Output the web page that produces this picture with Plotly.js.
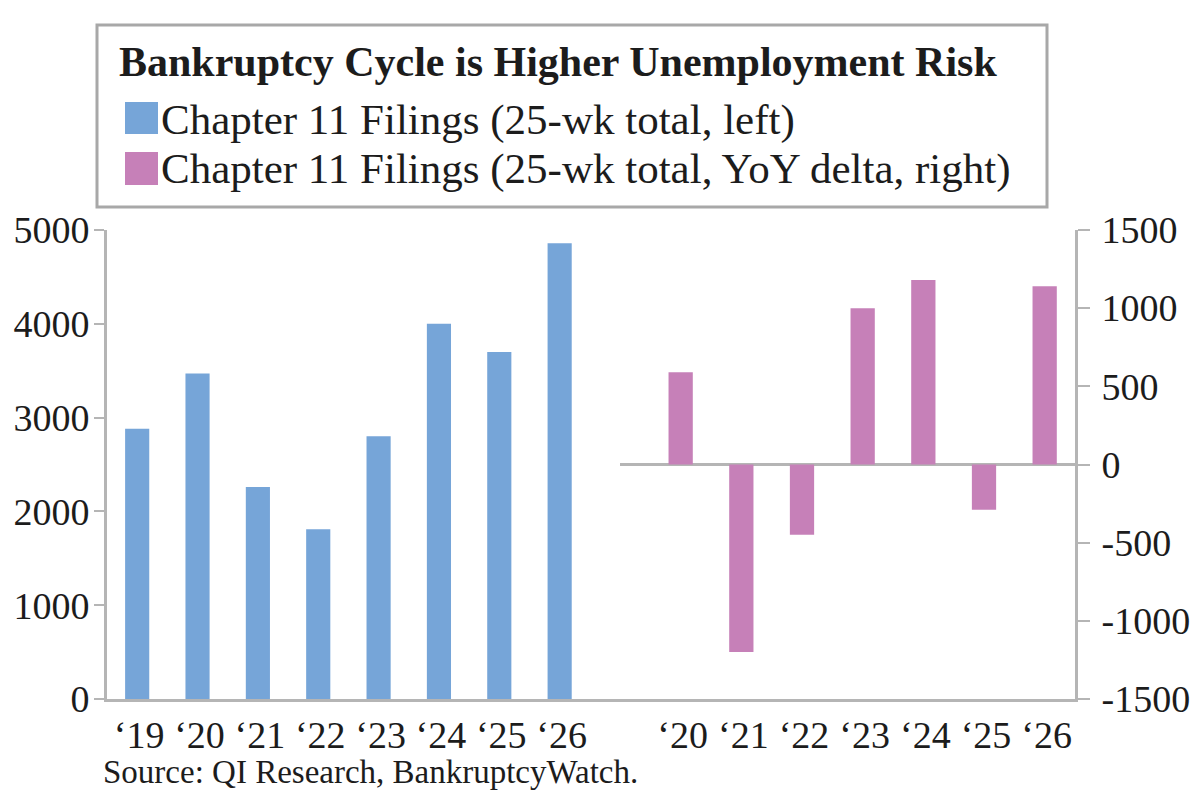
<!DOCTYPE html>
<html>
<head>
<meta charset="utf-8">
<script src="https://cdn.plot.ly/plotly-3.0.1.min.js"></script>
<style>
  html, body { margin: 0; padding: 0; background: #ffffff; }
  #chart { width: 1200px; height: 794px; }
</style>
</head>
<body>
<div id="chart"></div>
<script>
// Chapter 11 filings, 25-week totals (left panel)
const levelYears = ['‘19', '‘20', '‘21', '‘22', '‘23', '‘24', '‘25', '‘26'];
const levelFilings = [2880, 3470, 2260, 1810, 2800, 4000, 3700, 4860];

// Year-over-year change of the 25-week total (right panel)
const deltaYears = ['‘20', '‘21', '‘22', '‘23', '‘24', '‘25', '‘26'];
const deltaFilings = [590, -1200, -450, 1000, 1180, -290, 1140];

// Axis tick values
const levelTicks = [0, 1000, 2000, 3000, 4000, 5000];
const deltaTicks = [-1500, -1000, -500, 0, 500, 1000, 1500];

const chartTitle = 'Bankruptcy Cycle is Higher Unemployment Risk';
const seriesNames = [
  'Chapter 11 Filings (25-wk total, left)',
  'Chapter 11 Filings (25-wk total, YoY delta, right)'
];
const sourceNote = 'Source: QI Research, BankruptcyWatch.';

const BLUE = '#76a5d8';
const PINK = '#c680b8';
const AXIS = '#b5b5b5';
const INK = '#1c1c1c';
const SERIF = '"Liberation Serif", "DejaVu Serif", serif';

// Page geometry (pixels)
const W = 1200, H = 794;
const M = { l: 107, r: 125, t: 230, b: 95 };
const plotW = W - M.l - M.r;
const plotH = H - M.t - M.b;
const px = x => (x - M.l) / plotW;          // page x -> paper x
const py = y => (H - M.b - y) / plotH;      // page y -> paper y
const split = px(620);

const traces = [
  {
    type: 'bar', name: seriesNames[0],
    x: levelYears, y: levelFilings,
    xaxis: 'x', yaxis: 'y',
    marker: { color: BLUE, line: { width: 0 } },
    showlegend: false, hoverinfo: 'x+y'
  },
  {
    type: 'bar', name: seriesNames[1],
    x: deltaYears, y: deltaFilings,
    xaxis: 'x2', yaxis: 'y2',
    marker: { color: PINK, line: { width: 0 } },
    showlegend: false, hoverinfo: 'x+y'
  }
];

const tickFont = { family: SERIF, size: 38, color: INK };

const layout = {
  width: W, height: H,
  margin: M,
  paper_bgcolor: '#ffffff',
  plot_bgcolor: '#ffffff',
  bargap: 0.6,
  showlegend: false,
  font: { family: SERIF, color: INK },
  xaxis: {
    domain: [0, split], anchor: 'y',
    type: 'category', categoryorder: 'array', categoryarray: levelYears,
    range: [-0.5, 8.0],
    showline: true, linecolor: AXIS, linewidth: 3,
    ticks: '', showgrid: false, zeroline: false,
    tickfont: tickFont, ticklabelshift: 2, fixedrange: true
  },
  xaxis2: {
    domain: [split, 1], anchor: 'y2',
    type: 'category', categoryorder: 'array', categoryarray: deltaYears,
    range: [-1, 6.5],
    showline: true, linecolor: AXIS, linewidth: 3,
    ticks: '', showgrid: false, zeroline: false,
    tickfont: tickFont, ticklabelshift: 2, fixedrange: true
  },
  yaxis: {
    domain: [0, 1], anchor: 'x',
    range: [0, 5000],
    tickvals: levelTicks, ticktext: levelTicks.map(String),
    ticks: 'outside', ticklen: 10, tickwidth: 2, tickcolor: AXIS,
    showline: true, linecolor: AXIS, linewidth: 3,
    showgrid: false, zeroline: false,
    tickfont: tickFont, ticklabelstandoff: -3, fixedrange: true
  },
  yaxis2: {
    domain: [0, 1], anchor: 'x2', side: 'right',
    range: [-1500, 1500],
    tickvals: deltaTicks, ticktext: deltaTicks.map(String),
    ticks: 'outside', ticklen: 12, tickwidth: 2, tickcolor: AXIS,
    showline: true, linecolor: AXIS, linewidth: 3,
    showgrid: false,
    zeroline: true, zerolinecolor: AXIS, zerolinewidth: 3,
    tickfont: tickFont, ticklabelstandoff: 4, fixedrange: true
  },
  shapes: [
    // key box
    { type: 'rect', xref: 'paper', yref: 'paper',
      x0: px(97), x1: px(1047), y0: py(207), y1: py(25),
      line: { color: '#a8a8a8', width: 3 }, fillcolor: 'rgba(0,0,0,0)' },
    // key swatches
    { type: 'rect', xref: 'paper', yref: 'paper',
      x0: px(125), x1: px(158), y0: py(134), y1: py(102),
      line: { width: 0 }, fillcolor: BLUE },
    { type: 'rect', xref: 'paper', yref: 'paper',
      x0: px(125), x1: px(158), y0: py(185), y1: py(152),
      line: { width: 0 }, fillcolor: PINK }
  ],
  annotations: [
    { xref: 'paper', yref: 'paper', x: px(117), y: py(62),
      xanchor: 'left', yanchor: 'middle', showarrow: false,
      text: '<b>' + chartTitle + '</b>',
      font: { family: SERIF, size: 42, color: INK } },
    { xref: 'paper', yref: 'paper', x: px(159), y: py(120),
      xanchor: 'left', yanchor: 'middle', showarrow: false,
      text: seriesNames[0],
      font: { family: SERIF, size: 43, color: INK } },
    { xref: 'paper', yref: 'paper', x: px(159), y: py(169),
      xanchor: 'left', yanchor: 'middle', showarrow: false,
      text: seriesNames[1],
      font: { family: SERIF, size: 43, color: INK } },
    { xref: 'paper', yref: 'paper', x: px(101), y: py(772),
      xanchor: 'left', yanchor: 'middle', showarrow: false,
      text: sourceNote,
      font: { family: SERIF, size: 33, color: INK } }
  ]
};

Plotly.newPlot('chart', traces, layout, { staticPlot: true, displayModeBar: false });
</script>
</body>
</html>
